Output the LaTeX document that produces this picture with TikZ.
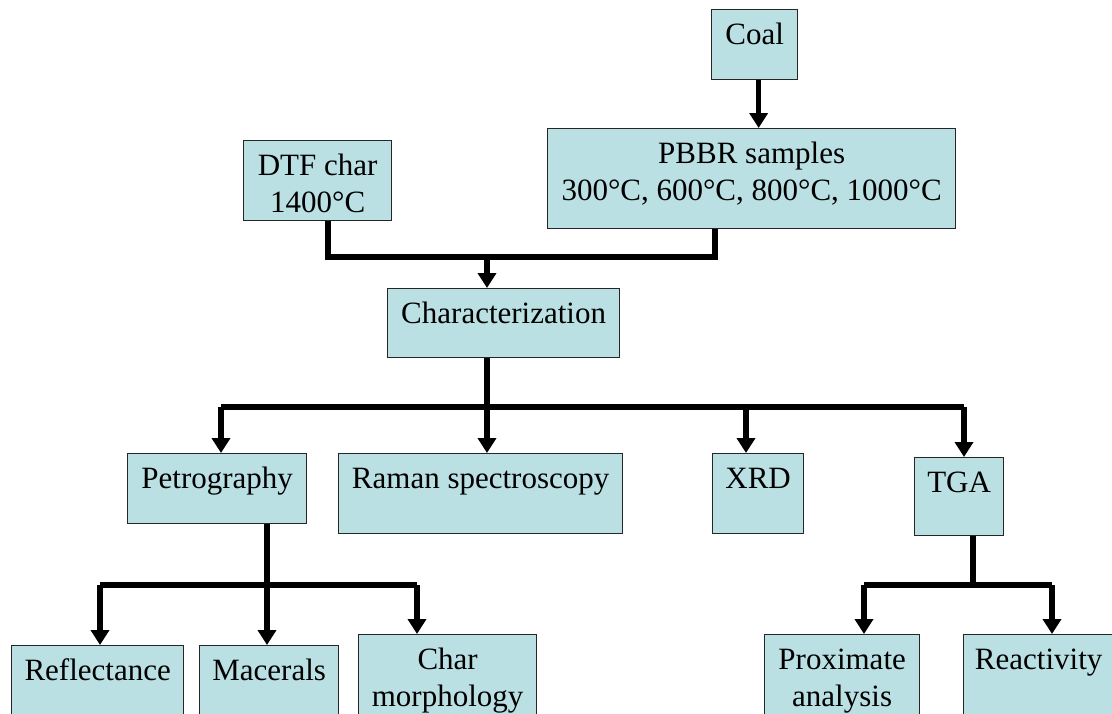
\documentclass[tikz,border=0pt]{standalone}
\usepackage{fontspec}
\setmainfont{Liberation Serif}
\usetikzlibrary{arrows.meta}
\definecolor{boxfill}{RGB}{186,224,227}
\begin{document}
\begin{tikzpicture}[x=1pt,y=-1pt,
  box/.style={draw=black!85, line width=1.3pt, fill=boxfill, inner sep=0pt,
    anchor=north west, text height=35pt, font=\fontsize{31}{36.5}\selectfont},
  ln/.style={line width=5.3pt, line join=miter},
  arr/.style={ln, -{Triangle[width=18pt,length=15pt]}}]
\useasboundingbox (0,0) rectangle (1112,713);
\clip (0,0) rectangle (1112,713);
% boxes
\node[box, minimum width=86pt, text depth=35pt] (coal) at (711,9) {Coal};
\node[box, minimum width=408pt, text depth=65pt] (pbbr) at (547,128)
  {\begin{tabular}[t]{@{}c@{}}PBBR samples\\300°C, 600°C, 800°C, 1000°C\end{tabular}};
\node[box, minimum width=148pt, text depth=45pt] (dtf) at (243,140)
  {\begin{tabular}[t]{@{}c@{}}DTF char\\1400°C\end{tabular}};
\node[box, minimum width=232pt, text depth=34pt] (char) at (387,288) {Characterization};
\node[box, minimum width=179pt, text depth=35pt] (petro) at (127,453) {Petrography};
\node[box, minimum width=284pt, text depth=45pt] (raman) at (338,453) {Raman spectroscopy};
\node[box, minimum width=91pt, text depth=45pt] (xrd) at (712,453) {XRD};
\node[box, minimum width=89pt, text depth=43pt] (tga) at (914,457) {TGA};
\node[box, minimum width=172pt, text depth=80pt] (refl) at (11,645) {Reflectance};
\node[box, minimum width=139pt, text depth=80pt] (mac) at (199,645) {Macerals};
\node[box, minimum width=178pt, text depth=90pt] (charm) at (358,634)
  {\begin{tabular}[t]{@{}c@{}}Char\\morphology\end{tabular}};
\node[box, minimum width=155pt, text depth=90pt] (prox) at (764,634)
  {\begin{tabular}[t]{@{}c@{}}Proximate\\analysis\end{tabular}};
\node[box, minimum width=150pt, text depth=90pt] (react) at (963,634) {Reactivity};
% junction coordinates
\coordinate (j1) at (487,257);
\coordinate (j1l) at (328,257);
\coordinate (j1r) at (715,257);
\coordinate (j2) at (487,407);
\coordinate (b1) at (221,407);
\coordinate (b4) at (964,407);
\coordinate (xb) at (746,407);
\coordinate (j3) at (267,585);
\coordinate (c1) at (100,585);
\coordinate (c3) at (417,585);
\coordinate (j4) at (973,585);
\coordinate (d1) at (864,585);
\coordinate (d2) at (1052,585);
% connectors
\draw[arr] ([xshift=4pt]coal.south) -- ([xshift=4pt]coal.south |- pbbr.north);
\draw[ln] (j1l |- dtf.south) -- (j1l) -- (j1r) -- (j1r |- pbbr.south);
\draw[arr] (j1) -- (j1 |- char.north);
\draw[ln] (j2 |- char.south) -- (j2);
\draw[ln] (b1) -- (b4);
\draw[arr] (b1) -- (b1 |- petro.north);
\draw[arr] (j2) -- (j2 |- raman.north);
\draw[arr] (xb) -- (xb |- xrd.north);
\draw[arr] (b4) -- (b4 |- tga.north);
\draw[ln] (j3 |- petro.south) -- (j3);
\draw[ln] (c1) -- (c3);
\draw[arr] (c1) -- (c1 |- refl.north);
\draw[arr] (j3) -- (j3 |- mac.north);
\draw[arr] (c3) -- (c3 |- charm.north);
\draw[ln] (j4 |- tga.south) -- (j4);
\draw[ln] (d1) -- (d2);
\draw[arr] (d1) -- (d1 |- prox.north);
\draw[arr] (d2) -- (d2 |- react.north);
\end{tikzpicture}
\end{document}
